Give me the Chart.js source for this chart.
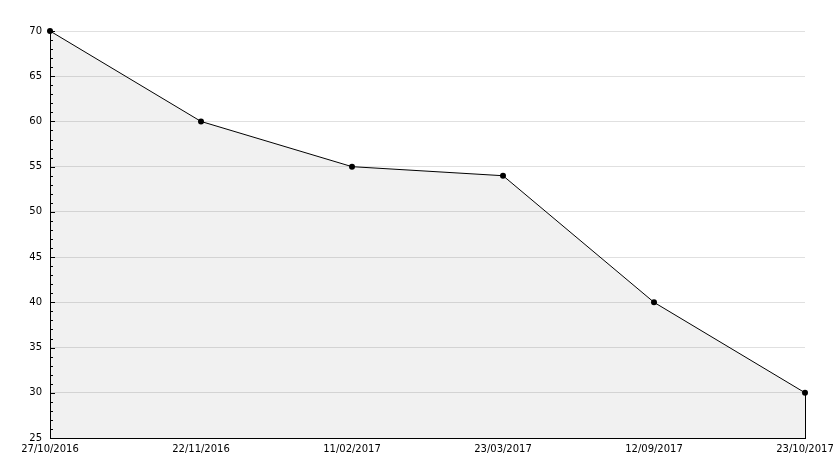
<!DOCTYPE html>
<html>
<head>
<meta charset="utf-8">
<script src="https://cdn.jsdelivr.net/npm/chart.js@4"></script>
<style>
html,body{margin:0;padding:0;background:#fff;}
#wrap{width:834px;height:468px;position:relative;}
</style>
</head>
<body>
<div id="wrap"><canvas id="c" width="834" height="468"></canvas></div>
<script>
const categories = ["27/10/2016", "22/11/2016", "11/02/2017", "23/03/2017", "12/09/2017", "23/10/2017"];
const values = [70, 60, 55, 54, 40, 30];
const yMin = 25;
const yMax = 70;
const yStep = 5;
const minorStep = 1;

const axisPlugin = {
  id: 'axisExtras',
  afterDatasetsDraw(chart) {
    const ctx = chart.ctx;
    const y = chart.scales.y;
    const x = chart.scales.x;
    const area = chart.chartArea;
    ctx.save();
    ctx.strokeStyle = '#000';
    ctx.lineWidth = 1;
    for (let v = yMin; v <= yMax; v += minorStep) {
      const py = Math.round(y.getPixelForValue(v)) + 0.5;
      const len = (v % yStep === 0) ? 5 : 3;
      ctx.beginPath();
      ctx.moveTo(area.left, py);
      ctx.lineTo(area.left + len, py);
      ctx.stroke();
    }
    const li = values.length - 1;
    const px = Math.round(x.getPixelForValue(li)) + 0.5;
    ctx.beginPath();
    ctx.moveTo(px, y.getPixelForValue(values[li]));
    ctx.lineTo(px, y.getPixelForValue(yMin));
    ctx.stroke();
    ctx.restore();
  }
};

new Chart(document.getElementById('c'), {
  type: 'line',
  data: {
    labels: categories,
    datasets: [{
      data: values,
      borderColor: '#000',
      borderWidth: 1,
      backgroundColor: 'rgba(0,0,0,0.055)',
      fill: 'origin',
      tension: 0,
      clip: false,
      pointRadius: 3,
      pointHoverRadius: 3,
      pointBackgroundColor: '#000',
      pointBorderColor: '#000',
      pointBorderWidth: 0,
      pointStyle: 'circle'
    }]
  },
  options: {
    responsive: false,
    animation: false,
    events: [],
    layout: { padding: { top: 31, right: 29, left: 0, bottom: 0 } },
    plugins: { legend: { display: false }, tooltip: { enabled: false } },
    scales: {
      x: {
        type: 'category',
        offset: false,
        grid: { display: false, drawTicks: false },
        border: { display: true, color: '#000', width: 1 },
        ticks: {
          color: '#000',
          font: { family: 'DejaVu Sans', size: 10 },
          padding: 5,
          maxRotation: 0,
          autoSkip: false
        },
        afterFit(s) { s.height = 30; s.paddingLeft = 0; s.paddingRight = 0; }
      },
      y: {
        min: yMin,
        max: yMax,
        grid: { color: '#e0e0e0', lineWidth: 1, drawTicks: false },
        border: { display: true, color: '#000', width: 1 },
        ticks: {
          stepSize: yStep,
          color: '#000',
          font: { family: 'DejaVu Sans', size: 10 },
          padding: 8
        },
        afterFit(s) { s.width = 50; s.paddingTop = 0; s.paddingBottom = 0; }
      }
    }
  },
  plugins: [axisPlugin]
});
</script>
</body>
</html>
